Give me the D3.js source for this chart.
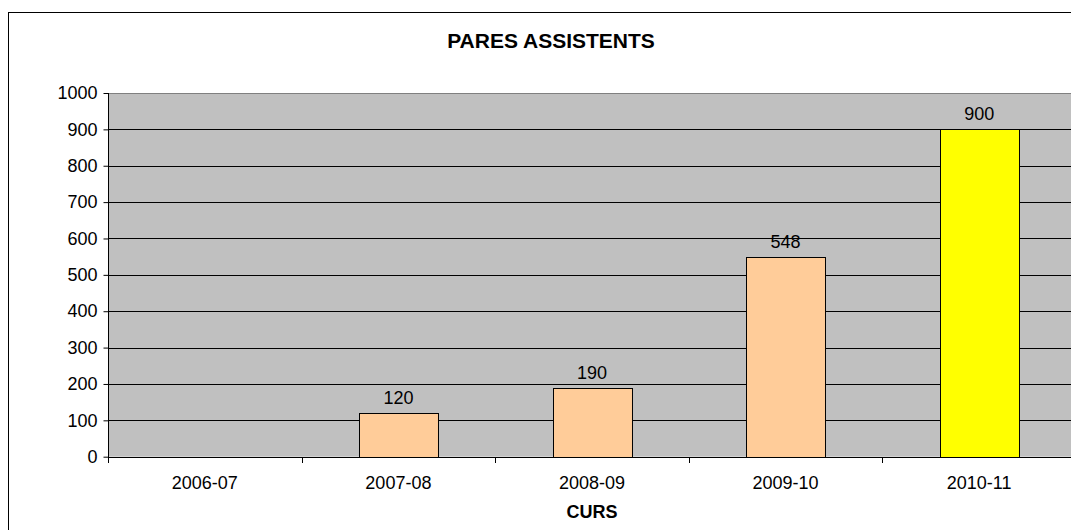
<!DOCTYPE html>
<html>
<head>
<meta charset="utf-8">
<script src="https://cdn.jsdelivr.net/npm/d3@7"></script>
<style>
  html, body { margin: 0; padding: 0; background: #fff; }
  svg { display: block; }
  text { font-family: "Liberation Sans", Arial, sans-serif; fill: #000; }
</style>
</head>
<body>
<svg id="chart" width="1071" height="530"></svg>
<script>
// Course labels and attendance per course (no figure for 2006-07)
const categories = ["2006-07", "2007-08", "2008-09", "2009-10", "2010-11"];
const values = [null, 120, 190, 548, 900];
const barColors = ["#FFCC99", "#FFCC99", "#FFCC99", "#FFCC99", "#FFFF00"];
const yTicks = [0, 100, 200, 300, 400, 500, 600, 700, 800, 900, 1000];
const title = "PARES ASSISTENTS";
const xTitle = "CURS";

const svg = d3.select("#chart");
const labelSize = "18px";

// plot area geometry
const plot = { left: 108, top: 93, right: 1076, bottom: 456.7 };

// outer chart frame (extends past the window on the right and bottom)
svg.append("rect")
  .attr("x", 8.5).attr("y", 12.5)
  .attr("width", 1100).attr("height", 560)
  .attr("fill", "#fff").attr("stroke", "#000").attr("stroke-width", 1);

const x = d3.scaleBand()
  .domain(categories)
  .range([plot.left, plot.right])
  .paddingInner(0.592)
  .paddingOuter(0.296);

const y = d3.scaleLinear().domain([0, 1000]).range([plot.bottom, plot.top]);

// plot background
svg.append("rect")
  .attr("x", plot.left).attr("y", plot.top)
  .attr("width", plot.right - plot.left).attr("height", plot.bottom - plot.top)
  .attr("fill", "#C0C0C0");

// horizontal gridlines
svg.append("g")
  .selectAll("line")
  .data(yTicks.filter(d => d > 0 && d < 1000))
  .join("line")
  .attr("x1", plot.left).attr("x2", plot.right)
  .attr("y1", d => Math.round(y(d)) + 0.5).attr("y2", d => Math.round(y(d)) + 0.5)
  .attr("stroke", "#000").attr("stroke-width", 1);

// top border of plot area
svg.append("line")
  .attr("x1", plot.left).attr("x2", plot.right)
  .attr("y1", Math.round(y(1000)) + 0.5).attr("y2", Math.round(y(1000)) + 0.5)
  .attr("stroke", "#808080");

// bars
const data = categories.map((c, i) => ({ c, v: values[i], color: barColors[i] }));
svg.append("g")
  .selectAll("rect")
  .data(data.filter(d => d.v != null))
  .join("rect")
  .attr("x", d => Math.round(x(d.c)) + 0.5)
  .attr("y", d => Math.round(y(d.v)) + 0.5)
  .attr("width", x.bandwidth())
  .attr("height", d => Math.round(y(0)) - Math.round(y(d.v)))
  .attr("fill", d => d.color)
  .attr("stroke", "#000").attr("stroke-width", 1);

// value labels
svg.append("g")
  .selectAll("text")
  .data(data.filter(d => d.v != null))
  .join("text")
  .attr("x", d => x(d.c) + x.bandwidth() / 2)
  .attr("y", d => y(d.v) - 9)
  .attr("text-anchor", "middle")
  .style("font-size", labelSize)
  .text(d => d.v);

// y axis
const yAxis = d3.axisLeft(y).tickValues(yTicks).tickSize(5).tickPadding(6).tickFormat(d3.format("d"));
const gy = svg.append("g")
  .attr("transform", `translate(${plot.left + 0.5},0)`)
  .call(yAxis);
gy.select(".domain").remove();
gy.selectAll(".tick line").attr("stroke", "#000");
gy.selectAll(".tick text")
  .style("font-size", labelSize)
  .style("font-family", "'Liberation Sans', Arial, sans-serif")
  .attr("fill", "#000");
svg.append("line")
  .attr("x1", plot.left + 0.5).attr("x2", plot.left + 0.5)
  .attr("y1", plot.top).attr("y2", plot.bottom + 5)
  .attr("stroke", "#000");

// x axis baseline and category separator ticks
const step = x.step();
svg.append("line")
  .attr("x1", plot.left).attr("x2", plot.right)
  .attr("y1", Math.round(y(0)) + 0.5).attr("y2", Math.round(y(0)) + 0.5)
  .attr("stroke", "#000");
svg.append("g")
  .selectAll("line")
  .data(d3.range(categories.length + 1))
  .join("line")
  .attr("x1", i => Math.round(plot.left + i * step) + 0.5)
  .attr("x2", i => Math.round(plot.left + i * step) + 0.5)
  .attr("y1", Math.round(y(0))).attr("y2", Math.round(y(0)) + 6)
  .attr("stroke", "#000");

// category labels
svg.append("g")
  .selectAll("text")
  .data(categories)
  .join("text")
  .attr("x", d => x(d) + x.bandwidth() / 2)
  .attr("y", 489)
  .attr("text-anchor", "middle")
  .style("font-size", labelSize)
  .text(d => d);

// titles
svg.append("text")
  .attr("x", 551).attr("y", 48)
  .attr("text-anchor", "middle")
  .style("font-size", "21px").style("font-weight", "bold")
  .text(title);

svg.append("text")
  .attr("x", x(categories[2]) + x.bandwidth() / 2).attr("y", 518)
  .attr("text-anchor", "middle")
  .style("font-size", labelSize).style("font-weight", "bold")
  .text(xTitle);
</script>
</body>
</html>
